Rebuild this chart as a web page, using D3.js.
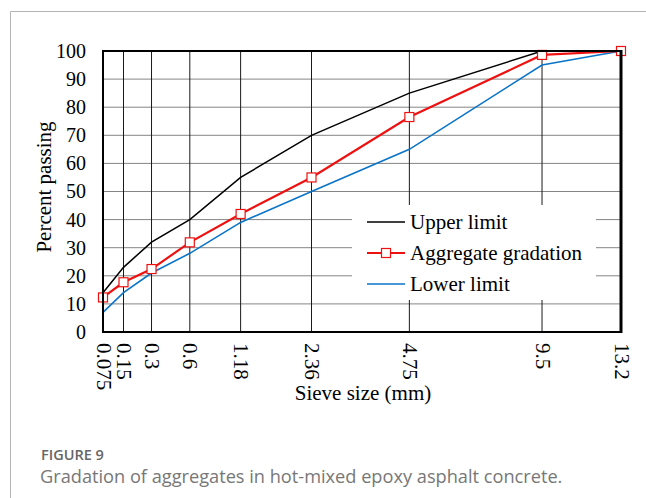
<!DOCTYPE html>
<html>
<head>
<meta charset="utf-8">
<script src="https://cdn.jsdelivr.net/npm/d3@7"></script>
<style>
  html, body { margin: 0; padding: 0; background: #fff; }
  svg { display: block; }
</style>
</head>
<body>
<svg id="chart" width="646" height="498"></svg>
<script>
// Sieve sizes (mm) and percent passing for each curve
const sieveSizes = [0.075, 0.15, 0.3, 0.6, 1.18, 2.36, 4.75, 9.5, 13.2];
const sieveLabels = ["0.075", "0.15", "0.3", "0.6", "1.18", "2.36", "4.75", "9.5", "13.2"];
const upperLimit = [14, 23, 32, 40, 55, 70, 85, 100, 100];
const aggregateGradation = [12.3, 17.7, 22.4, 31.9, 42.0, 55.0, 76.5, 98.6, 100];
const lowerLimit = [7, 14, 21, 28, 39, 50, 65, 95, 100];
const yTicks = [0, 10, 20, 30, 40, 50, 60, 70, 80, 90, 100];
const seriesNames = ["Upper limit", "Aggregate gradation", "Lower limit"];

const serif = "'Liberation Serif', 'Times New Roman', serif";
const svg = d3.select("#chart");

const plot = { left: 103, right: 621, top: 51, bottom: 332 };

// Gradation charts use a 0.45-power sieve axis
const x = d3.scalePow().exponent(0.45)
  .domain([sieveSizes[0], sieveSizes[sieveSizes.length - 1]])
  .range([plot.left, plot.right]);
const y = d3.scaleLinear().domain([0, 100]).range([plot.bottom, plot.top]);

// Figure frame
svg.append("path")
  .attr("d", "M10.5,498 V11.5 H646")
  .attr("fill", "none")
  .attr("stroke", "#b4b4b4")
  .attr("stroke-width", 1);

// Horizontal gridlines
svg.append("g")
  .selectAll("line")
  .data(yTicks.slice(1, -1))
  .join("line")
  .attr("x1", plot.left).attr("x2", plot.right)
  .attr("y1", d => y(d)).attr("y2", d => y(d))
  .attr("stroke", "#858585")
  .attr("stroke-width", 1);

// Vertical lines at each sieve
svg.append("g")
  .selectAll("line")
  .data(sieveSizes.slice(1, -1))
  .join("line")
  .attr("x1", d => x(d)).attr("x2", d => x(d))
  .attr("y1", plot.top).attr("y2", plot.bottom)
  .attr("stroke", "#1a1a1a")
  .attr("stroke-width", 1);

// Y axis tick labels
const yAxis = d3.axisLeft(y).tickValues(yTicks).tickSize(0).tickPadding(17);
const yg = svg.append("g").attr("transform", `translate(${plot.left},0)`).call(yAxis);
yg.select(".domain").remove();
yg.selectAll("text")
  .attr("font-family", serif)
  .attr("font-size", 20)
  .attr("fill", "#000");

// X axis tick labels, rotated
const xAxis = d3.axisBottom(x).tickValues(sieveSizes)
  .tickFormat((d, i) => sieveLabels[i]).tickSize(0);
const xg = svg.append("g").attr("transform", `translate(0,${plot.bottom})`).call(xAxis);
xg.select(".domain").remove();
xg.selectAll("text")
  .attr("font-family", serif)
  .attr("font-size", 21)
  .attr("fill", "#000")
  .attr("text-anchor", "start")
  .attr("transform", "rotate(90)")
  .attr("x", 11)
  .attr("y", 0)
  .attr("dy", "0.33em");

// Axis titles
svg.append("text")
  .attr("x", 363).attr("y", 400)
  .attr("text-anchor", "middle")
  .attr("font-family", serif).attr("font-size", 21)
  .text("Sieve size (mm)");

svg.append("text")
  .attr("transform", "translate(51,187) rotate(-90)")
  .attr("text-anchor", "middle")
  .attr("font-family", serif).attr("font-size", 21)
  .text("Percent passing");

// Curves
const line = d3.line().x(d => x(d[0])).y(d => y(d[1]));
const zipped = vals => sieveSizes.map((s, i) => [s, vals[i]]);

svg.append("path")
  .datum(zipped(lowerLimit))
  .attr("d", line)
  .attr("fill", "none").attr("stroke", "#0a74c8").attr("stroke-width", 1.6);

svg.append("path")
  .datum(zipped(upperLimit))
  .attr("d", line)
  .attr("fill", "none").attr("stroke", "#000").attr("stroke-width", 1.5);

svg.append("path")
  .datum(zipped(aggregateGradation))
  .attr("d", line)
  .attr("fill", "none").attr("stroke", "#ee1111").attr("stroke-width", 2.2);

const ms = 9;
svg.append("g")
  .selectAll("rect")
  .data(zipped(aggregateGradation))
  .join("rect")
  .attr("x", d => x(d[0]) - ms / 2)
  .attr("y", d => y(d[1]) - ms / 2)
  .attr("width", ms).attr("height", ms)
  .attr("fill", "#fff").attr("stroke", "#ee1111").attr("stroke-width", 1.2);

// Plot border
svg.append("rect")
  .attr("x", plot.left).attr("y", plot.top)
  .attr("width", plot.right - plot.left).attr("height", plot.bottom - plot.top)
  .attr("fill", "none").attr("stroke", "#000").attr("stroke-width", 2);
svg.append("line")
  .attr("x1", plot.right).attr("x2", plot.right)
  .attr("y1", plot.top - 1).attr("y2", plot.bottom + 1)
  .attr("stroke", "#000").attr("stroke-width", 3);

// Legend
const legend = svg.append("g");
legend.append("rect")
  .attr("x", 352).attr("y", 205).attr("width", 244).attr("height", 95)
  .attr("fill", "#fff");
const legendColors = ["#000", "#ee1111", "#0a74c8"];
const legendWidths = [1.5, 2.2, 1.6];
const rowY = [222, 253, 284];
seriesNames.forEach((name, i) => {
  legend.append("line")
    .attr("x1", 367).attr("x2", 405)
    .attr("y1", rowY[i]).attr("y2", rowY[i])
    .attr("stroke", legendColors[i]).attr("stroke-width", legendWidths[i]);
  if (i === 1) {
    legend.append("rect")
      .attr("x", 386 - ms / 2).attr("y", rowY[i] - ms / 2)
      .attr("width", ms).attr("height", ms)
      .attr("fill", "#fff").attr("stroke", "#ee1111").attr("stroke-width", 1.2);
  }
  legend.append("text")
    .attr("x", 410).attr("y", rowY[i]).attr("dy", "0.33em")
    .attr("font-family", serif).attr("font-size", 21)
    .text(name);
});

// Caption
const sans = "'Open Sans', 'Noto Sans', sans-serif";
svg.append("text")
  .attr("x", 41).attr("y", 460)
  .attr("font-family", sans).attr("font-size", 14.5).attr("font-weight", 600)
  .attr("fill", "#666")
  .text("FIGURE 9");
svg.append("text")
  .attr("x", 40).attr("y", 483)
  .attr("font-family", sans).attr("font-size", 18.2)
  .attr("fill", "#777")
  .text("Gradation of aggregates in hot-mixed epoxy asphalt concrete.");
</script>
</body>
</html>
